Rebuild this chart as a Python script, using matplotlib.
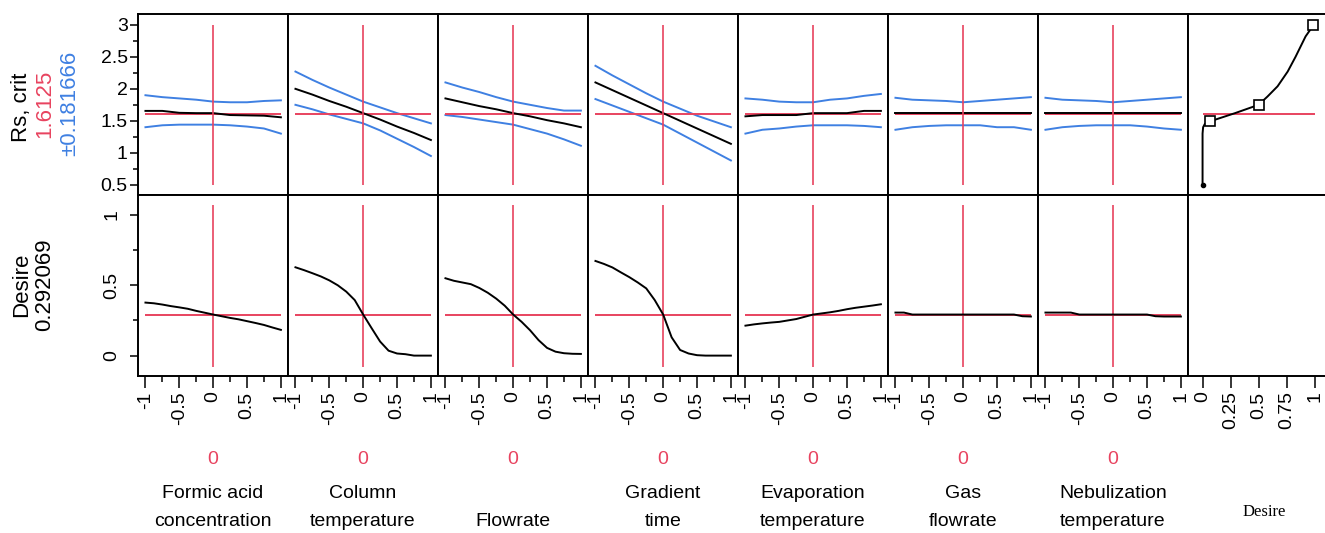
import matplotlib
matplotlib.use("Agg")
from matplotlib import pyplot as plt
from matplotlib import font_manager
import numpy as np

# factor names (one list entry per text line) and current settings
factors = [["Formic acid", "concentration"], ["Column", "temperature"], ["Flowrate"],
           ["Gradient", "time"], ["Evaporation", "temperature"], ["Gas", "flowrate"],
           ["Nebulization", "temperature"]]
current = [0, 0, 0, 0, 0, 0, 0]

rs_crit = 1.6125
rs_ci = 0.181666
desire_now = 0.292069

# Rs,crit profiles
rs_x = [-1, -0.75, -0.5, -0.25, 0, 0.25, 0.5, 0.75, 1]
rs_pred = [
    [1.655, 1.655, 1.625, 1.62, 1.62, 1.59, 1.585, 1.58, 1.555],
    [2.00, 1.91, 1.81, 1.72, 1.62, 1.52, 1.41, 1.31, 1.20],
    [1.85, 1.79, 1.73, 1.68, 1.62, 1.57, 1.51, 1.46, 1.40],
    [2.10, 1.98, 1.86, 1.74, 1.62, 1.50, 1.38, 1.26, 1.14],
    [1.57, 1.59, 1.59, 1.59, 1.62, 1.62, 1.62, 1.655, 1.655],
    [1.615, 1.615, 1.615, 1.615, 1.615, 1.615, 1.615, 1.615, 1.615],
    [1.615, 1.615, 1.615, 1.615, 1.615, 1.615, 1.615, 1.615, 1.615],
]
rs_upper = [
    [1.90, 1.87, 1.85, 1.83, 1.80, 1.79, 1.79, 1.81, 1.82],
    [2.27, 2.14, 2.02, 1.91, 1.80, 1.71, 1.62, 1.54, 1.46],
    [2.10, 2.02, 1.95, 1.87, 1.80, 1.75, 1.70, 1.66, 1.66],
    [2.36, 2.21, 2.07, 1.93, 1.80, 1.69, 1.58, 1.49, 1.40],
    [1.85, 1.83, 1.80, 1.79, 1.79, 1.83, 1.85, 1.89, 1.92],
    [1.86, 1.83, 1.82, 1.81, 1.79, 1.81, 1.83, 1.85, 1.87],
    [1.86, 1.83, 1.82, 1.81, 1.79, 1.81, 1.83, 1.85, 1.87],
]
rs_lower = [
    [1.40, 1.43, 1.44, 1.44, 1.44, 1.43, 1.41, 1.38, 1.30],
    [1.75, 1.68, 1.60, 1.53, 1.46, 1.35, 1.22, 1.09, 0.95],
    [1.59, 1.56, 1.52, 1.48, 1.44, 1.37, 1.30, 1.21, 1.11],
    [1.84, 1.74, 1.64, 1.54, 1.44, 1.30, 1.16, 1.02, 0.88],
    [1.30, 1.36, 1.38, 1.41, 1.43, 1.43, 1.43, 1.42, 1.40],
    [1.36, 1.40, 1.42, 1.43, 1.43, 1.43, 1.40, 1.40, 1.36],
    [1.36, 1.40, 1.42, 1.43, 1.43, 1.43, 1.41, 1.38, 1.36],
]

# desirability profiles
desire_x = [-1, -0.875, -0.75, -0.625, -0.5, -0.375, -0.25, -0.125, 0,
            0.125, 0.25, 0.375, 0.5, 0.625, 0.75, 0.875, 1]
desire = [
    [0.377, 0.372, 0.363, 0.352, 0.343, 0.333, 0.318, 0.305, 0.292, 0.280, 0.268, 0.258, 0.245, 0.232, 0.218, 0.200, 0.183],
    [0.628, 0.608, 0.586, 0.563, 0.535, 0.500, 0.455, 0.395, 0.292, 0.195, 0.100, 0.035, 0.015, 0.010, 0.0, 0.0, 0.0],
    [0.550, 0.532, 0.520, 0.508, 0.481, 0.447, 0.405, 0.355, 0.292, 0.240, 0.180, 0.110, 0.055, 0.028, 0.017, 0.013, 0.012],
    [0.673, 0.652, 0.627, 0.592, 0.558, 0.520, 0.478, 0.395, 0.292, 0.130, 0.040, 0.015, 0.003, 0.0, 0.0, 0.0, 0.0],
    [0.213, 0.222, 0.229, 0.235, 0.240, 0.250, 0.260, 0.276, 0.292, 0.300, 0.308, 0.318, 0.330, 0.340, 0.348, 0.356, 0.365],
    [0.306, 0.306, 0.292, 0.292, 0.292, 0.292, 0.292, 0.292, 0.292, 0.292, 0.292, 0.292, 0.292, 0.292, 0.292, 0.280, 0.278],
    [0.306, 0.306, 0.306, 0.306, 0.292, 0.292, 0.292, 0.292, 0.292, 0.292, 0.292, 0.292, 0.292, 0.280, 0.278, 0.278, 0.278],
]

# desirability function of Rs,crit
dfun_d = [0.0, 0.0, 0.005, 0.02, 0.064, 0.29, 0.5, 0.58, 0.67, 0.76, 0.83, 0.92, 0.96, 0.99]
dfun_rs = [0.5, 1.30, 1.40, 1.45, 1.49, 1.62, 1.75, 1.88, 2.04, 2.27, 2.50, 2.82, 2.92, 3.0]
handle_d = [0.064, 0.5, 0.99]
handle_rs = [1.49, 1.75, 3.0]

RED = "#e8435f"
BLUE = "#3f80e2"

names = {f.name for f in font_manager.fontManager.ttflist}
sans = "Liberation Sans Narrow" if "Liberation Sans Narrow" in names else "Liberation Sans"
plt.rcParams["font.family"] = [sans, "DejaVu Sans"]

W, H = 1325, 533
fig = plt.figure(figsize=(W / 100, H / 100), dpi=100)


def box(left, top, w, h):
    return [left / W, (H - top - h) / H, w / W, h / H]


def frame(ax):
    for s in ax.spines.values():
        s.set_linewidth(1.4)
    ax.tick_params(which="both", direction="out", width=1.1, labelsize=14)
    ax.tick_params(which="major", length=5.8)
    ax.tick_params(which="minor", length=3.5)


lefts = [138 + 150 * k for k in range(8)]
top_ylim = (0.34, 3.17)
bot_ylim = (-0.145, 1.142)
xlim = (-1.11, 1.105)

for k in range(7):
    # Rs,crit row
    ax = fig.add_axes(box(lefts[k], 14, 150, 181))
    frame(ax)
    ax.plot(rs_x, rs_upper[k], color=BLUE, lw=1.4)
    ax.plot(rs_x, rs_lower[k], color=BLUE, lw=1.4)
    ax.hlines(rs_crit, -1, 1, color=RED, lw=1.4)
    ax.plot(rs_x, rs_pred[k], color="black", lw=1.4)
    ax.vlines(current[k], 0.5, 3, color=RED, lw=1.2)
    ax.set_xlim(*xlim)
    ax.set_ylim(*top_ylim)
    ax.set_xticks([])
    if k == 0:
        ax.set_yticks([0.5, 1, 1.5, 2, 2.5, 3], ["0.5", "1", "1.5", "2", "2.5", "3"])
        ax.set_yticks([0.75, 1.25, 1.75, 2.25, 2.75], minor=True)
        ax.tick_params(axis="y", pad=1.5)
    else:
        ax.set_yticks([])

    # desirability row
    ax = fig.add_axes(box(lefts[k], 195, 150, 181))
    frame(ax)
    ax.hlines(desire_now, -1, 1, color=RED, lw=1.4)
    ax.vlines(current[k], -0.08, 1.07, color=RED, lw=1.2)
    ax.plot(desire_x, desire[k], color="black", lw=1.4)
    ax.set_xlim(*xlim)
    ax.set_ylim(*bot_ylim)
    ax.set_xticks([-1, -0.5, 0, 0.5, 1], ["-1", "-0.5", "0", "0.5", "1"], rotation=90)
    ax.set_xticks([-0.75, -0.25, 0.25, 0.75], minor=True)
    ax.tick_params(axis="x", which="major", length=8.6, pad=2.5)
    ax.tick_params(axis="x", which="minor", length=4.3)
    if k == 0:
        ax.set_yticks([0, 0.5, 1], ["0", "0.5", "1"])
        ax.set_yticks([0.25, 0.75], minor=True)
        for t in ax.get_yticklabels():
            t.set_rotation(90)
            t.set_va("center")
        ax.tick_params(axis="y", pad=7)
    else:
        ax.set_yticks([])

    cx = (lefts[k] + 75) / W
    fig.text(cx, 1 - 460 / H, str(current[k]), color=RED, fontsize=14, ha="center", va="center")
    lines = factors[k]
    for j, line in enumerate(lines):
        y = 522 - 29 * (len(lines) - 1 - j)
        fig.text(cx, 1 - y / H, line, fontsize=14, ha="center", va="center")

# desirability function column
dlim = (-0.13, 1.12)
ax = fig.add_axes(box(lefts[7], 14, 140, 181))
frame(ax)
ax.spines["right"].set_visible(False)
ax.hlines(rs_crit, 0, 1, color=RED, lw=1.4)
ax.plot(dfun_d, dfun_rs, color="black", lw=1.4)
ax.plot(handle_d, handle_rs, ls="none", marker="s", ms=6.5, mfc="white", mec="black", mew=1.2)
ax.plot(dfun_d[0], dfun_rs[0], marker="o", ms=3, color="black")
ax.set_xlim(*dlim)
ax.set_ylim(*top_ylim)
ax.set_xticks([])
ax.set_yticks([])

ax = fig.add_axes(box(lefts[7], 195, 140, 181))
frame(ax)
ax.spines["right"].set_visible(False)
ax.set_xlim(*dlim)
ax.set_ylim(*bot_ylim)
ax.set_yticks([])
ax.set_xticks([0, 0.25, 0.5, 0.75, 1], ["0", "0.25", "0.5", "0.75", "1"], rotation=90)
ax.tick_params(axis="x", length=8.6, pad=2.5)
fig.text(1264 / W, 1 - 512 / H, "Desire", fontsize=12, family="Liberation Serif",
         ha="center", va="center")

# response labels on the left
fig.text(22 / W, 1 - 107 / H, "Rs, crit", rotation=90, fontsize=16, ha="center", va="center")
fig.text(45 / W, 1 - 104 / H, "1.6125", rotation=90, fontsize=16, color=RED, ha="center", va="center")
fig.text(70 / W, 1 - 103 / H, "\u00b10.181666", rotation=90, fontsize=16, color=BLUE,
         ha="center", va="center")
fig.text(22 / W, 1 - 285 / H, "Desire", rotation=90, fontsize=16, ha="center", va="center")
fig.text(45 / W, 1 - 285 / H, "0.292069", rotation=90, fontsize=16, ha="center", va="center")

fig.savefig("out.png", dpi=100)
